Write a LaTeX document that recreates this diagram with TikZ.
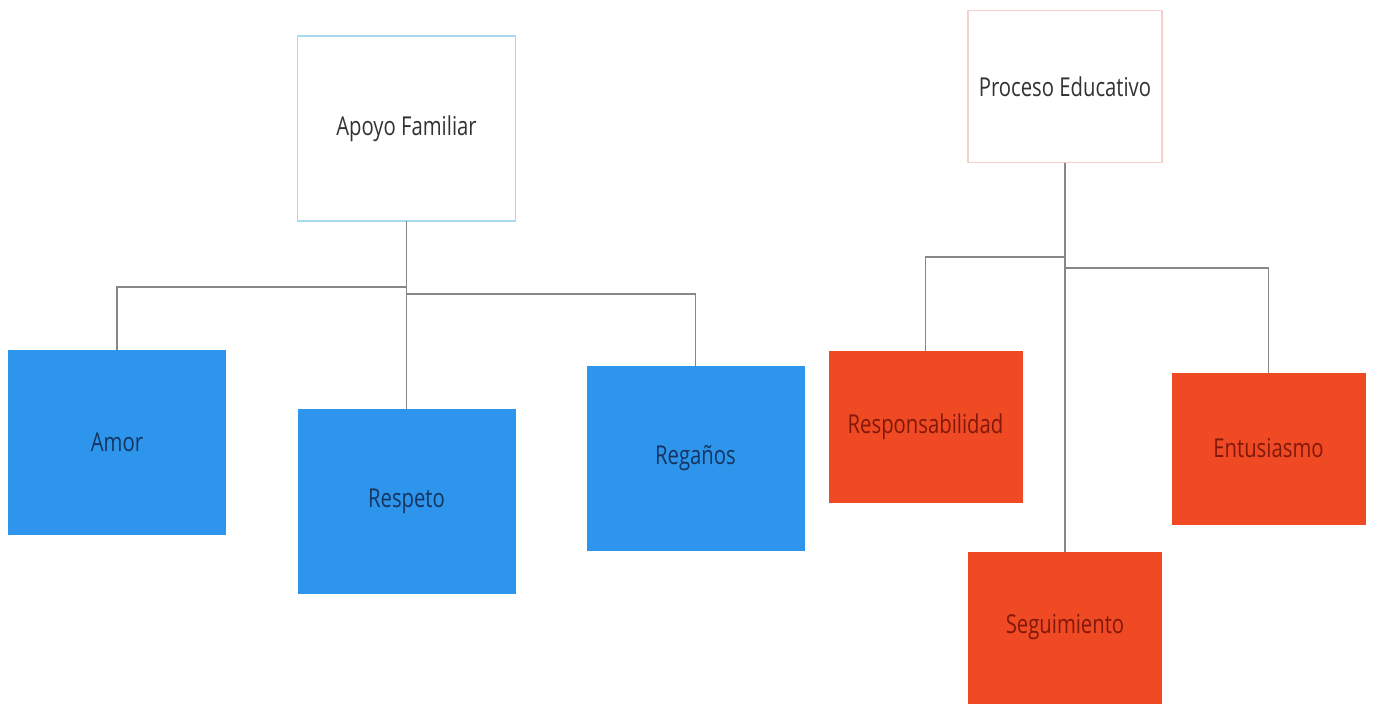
\documentclass[tikz,border=0pt]{standalone}
\usepackage{fontspec}
\setmainfont{Open Sans}[FakeStretch=0.78]
\definecolor{bluefill}{RGB}{45,150,236}
\definecolor{redfill}{RGB}{239,74,36}
\definecolor{bluetext}{RGB}{22,52,96}
\definecolor{redtext}{RGB}{130,24,10}
\definecolor{titletext}{RGB}{50,50,50}
\definecolor{blueedge}{RGB}{170,218,240}
\definecolor{rededge}{RGB}{244,208,200}
\definecolor{linegray}{RGB}{135,135,135}
\begin{document}
\begin{tikzpicture}[x=1pt,y=-1pt,
  lbl/.style={font=\fontsize{26}{30}\selectfont, inner sep=0pt, outer sep=0pt, align=center},
  bluebox/.style={lbl, fill=bluefill, text=bluetext, minimum width=218pt, minimum height=185pt},
  redbox/.style={lbl, fill=redfill, text=redtext, minimum width=194pt, minimum height=152pt},
  topblue/.style={lbl, draw=blueedge, line width=1.2pt, fill=white, text=titletext, minimum width=218pt, minimum height=185pt},
  topred/.style={lbl, draw=rededge, line width=1.2pt, fill=white, text=titletext, minimum width=194pt, minimum height=152pt},
  conn/.style={draw=linegray, line width=1.1pt}]
\useasboundingbox[fill=white] (0,0) rectangle (1374,704);
% left tree
\node[topblue] (apoyo) at (406.5,128.5) {Apoyo Familiar};
\node[bluebox] (amor) at (117,442.5) {Amor};
\node[bluebox] (respeto) at (406.5,501.5) {Respeto};
\node[bluebox] (reganos) at (695.5,458) {Regaños};
\coordinate (ja) at (406.5,287);
\coordinate (jb) at (406.5,294);
\draw[conn] (apoyo.south) -- (respeto.north);
\draw[conn] (amor.north) |- (ja);
\draw[conn] (reganos.north) |- (jb);
% right tree
\node[topred] (proceso) at (1065,86.5) {Proceso Educativo};
\node[redbox] (resp) at (925.5,426.5) {Responsabilidad};
\node[redbox] (seg) at (1065,627.5) {Seguimiento};
\node[redbox] (entu) at (1268.5,448.5) {Entusiasmo};
\coordinate (jp1) at (1065,257);
\coordinate (jp2) at (1065,268);
\draw[conn] (proceso.south) -- (seg.north);
\draw[conn] (resp.north) |- (jp1);
\draw[conn] (entu.north) |- (jp2);
\end{tikzpicture}
\end{document}
